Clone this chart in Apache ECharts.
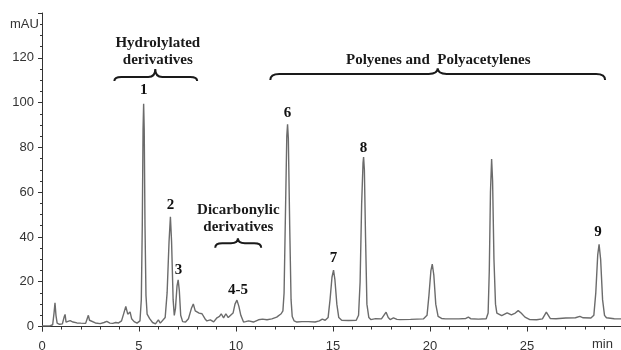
<!DOCTYPE html>
<html><head><meta charset="utf-8">
<script src="https://cdn.jsdelivr.net/npm/echarts@6/dist/echarts.min.js"></script>
<style>html,body{margin:0;padding:0;background:#fff}#c{width:621px;height:350px}</style>
</head><body><div id="c"></div>
<script>
// chromatogram trace [time (min), absorbance (mAU)]
const trace = [
[0.0,0.3],[0.4,0.3],[0.55,0.8],[0.62,6],[0.67,10.6],[0.72,5],[0.78,1.5],[0.9,1.0],[1.05,1.2],
[1.15,4.5],[1.19,5.4],[1.24,2],[1.32,1.5],[1.45,2.6],[1.6,2.0],[1.8,1.6],[2.0,1.5],[2.25,1.4],
[2.35,4],[2.39,5.0],[2.45,2.8],[2.55,2.2],[2.75,1.6],[3.0,1.3],[3.2,1.8],[3.34,2.3],[3.5,1.5],
[3.65,1.4],[3.8,1.8],[3.95,1.6],[4.1,2.5],[4.22,6],[4.32,9],[4.42,5.5],[4.54,6.5],[4.62,3.5],
[4.75,2.2],[4.9,1.5],[5.05,2.5],[5.12,12],[5.17,45],[5.21,88],[5.24,99.5],[5.27,88],[5.31,45],
[5.36,14],[5.42,5.5],[5.47,5.3],[5.55,3.5],[5.7,1.8],[5.85,1.2],[6.0,3.0],[6.1,1.5],[6.2,1.0],
[6.35,4],[6.45,15],[6.55,38],[6.62,49],[6.68,38],[6.76,12],[6.82,5],[6.88,8],[6.96,18],[7.02,20.8],
[7.08,16],[7.15,5],[7.25,2.2],[7.4,2.0],[7.55,3.5],[7.7,8],[7.8,10.1],[7.9,7],[8.0,6.4],[8.1,6.0],
[8.25,5.7],[8.4,3.5],[8.5,2.5],[8.68,3.0],[8.85,2.1],[9.02,3.9],[9.15,4.5],[9.24,5.7],[9.36,3.9],
[9.48,5.7],[9.6,4.0],[9.7,3.9],[9.85,6],[9.95,10],[10.05,11.8],[10.15,9],[10.25,5],[10.39,2.0],
[10.5,2.2],[10.65,2.5],[10.9,2.0],[11.16,3.0],[11.37,3.3],[11.6,3.0],[11.85,3.4],[12.1,4.2],
[12.33,5.7],[12.42,7],[12.48,15],[12.55,50],[12.62,85],[12.66,90.3],[12.7,84],[12.77,45],[12.84,12],
[12.9,4.5],[13.0,2.5],[13.14,2.0],[13.4,2.2],[13.74,2.2],[14.08,2.0],[14.3,2.5],[14.45,3.3],
[14.6,2.8],[14.75,4],[14.85,12],[14.95,22],[15.03,25.2],[15.1,21],[15.2,10],[15.3,4],[15.45,2.8],
[15.8,2.7],[16.2,2.8],[16.32,5],[16.4,20],[16.48,55],[16.55,73],[16.58,75.7],[16.62,70],[16.68,40],
[16.75,10],[16.85,4],[16.95,3.1],[17.2,3.5],[17.5,3.4],[17.6,2.8],[17.74,6.4],[17.85,4],[17.95,3.1],
[18.12,3.9],[18.3,3.2],[18.46,3.1],[19.0,3.2],[19.66,3.4],[19.85,5],[19.95,14],[20.05,25],
[20.12,27.9],[20.2,23],[20.3,10],[20.42,4.5],[20.6,3.6],[20.8,3.4],[21.5,3.4],[21.85,3.6],
[21.98,4.2],[22.1,3.5],[22.5,3.3],[22.9,3.5],[23.0,6],[23.06,25],[23.12,60],[23.18,74.8],
[23.23,65],[23.3,30],[23.38,10],[23.45,6],[23.52,5.7],[23.7,4.9],[23.98,6.1],[24.2,5.2],[24.4,6],
[24.55,7.1],[24.7,6],[24.9,4.2],[25.15,3.1],[25.5,3.0],[25.8,3.4],[26.0,6.4],[26.2,3.6],[26.5,3.5],
[27.0,3.8],[27.5,3.9],[27.73,4.5],[27.9,3.9],[28.3,3.8],[28.45,5],[28.55,15],[28.65,32],
[28.72,36.7],[28.8,30],[28.9,12],[29.0,5],[29.1,3.9],[29.5,3.5],[29.85,3.4]
];
const xTickLabels = [0,5,10,15,20,25];
const xMinorTicks = [1,2,3,4,6,7,8,9,11,12,13,14,16,17,18,19,21,22,23,24,26,27,28,29];
const yTickLabels = [0,20,40,60,80,100,120];
const yMinorTicks = [5,10,15,25,30,35,45,50,55,65,70,75,85,90,95,105,110,115,125,130,135];
const peakNames = ['1','2','3','4-5','6','7','8','9'];
const peakLabelX = [5.25,6.62,7.04,10.11,12.66,15.03,16.58,28.66];
const peakLabelY = [105.6,54,25.2,16.3,95.4,30.5,79.7,42.3];
const groupNames = ['Hydrolylated\nderivatives','Dicarbonylic\nderivatives','Polyenes and  Polyacetylenes'];
const braceLeft = [3.73,8.93,11.77];
const braceRight = [8.0,11.3,29.03];
const braceTip = [5.84,10.1,20.4];
const braceMainY = [111.4,37.2,112.8];
const braceEndY = [109.6,35.2,110.1];
const braceTipY = [115,39.4,115.3];
const groupTextX = [5.97,10.12,20.43];
const groupTextY = [122.6,48.1,119];

const AX = '#333';
const serif = 'bold 15px "Liberation Serif", "Times New Roman", serif';
const chart = echarts.init(document.getElementById('c'), null, {renderer:'canvas'});

function renderBrace(params, api){
  const i = params.dataIndex;
  const pl = api.coord([braceLeft[i], braceEndY[i]]);
  const pm = api.coord([braceLeft[i], braceMainY[i]]);
  const pr = api.coord([braceRight[i], braceEndY[i]]);
  const pt = api.coord([braceTip[i], braceTipY[i]]);
  const xl=pl[0], xr=pr[0], ye=pl[1], ym=pm[1], xm=pt[0], yt=pt[1];
  const d = (xr-xl) > 100 ? 9 : 7;
  const path = 'M'+xl+','+ye+' Q'+xl+','+ym+' '+(xl+d)+','+ym+' L'+(xm-d)+','+ym+
    ' Q'+xm+','+ym+' '+xm+','+yt+' Q'+xm+','+ym+' '+(xm+d)+','+ym+' L'+(xr-d)+','+ym+
    ' Q'+xr+','+ym+' '+xr+','+ye;
  const tp = api.coord([groupTextX[i], groupTextY[i]]);
  return {type:'group', children:[
    {type:'path', shape:{pathData:path}, style:{fill:'none', stroke:'#1a1a1a', lineWidth:2}},
    {type:'text', x:tp[0], y:tp[1], style:{text:groupNames[i], font:serif, fill:'#1a1a1a',
      align:'center', verticalAlign:'middle', lineHeight:17}}
  ]};
}
function renderPeakLabel(params, api){
  const i = params.dataIndex;
  const p = api.coord([peakLabelX[i], peakLabelY[i]]);
  return {type:'text', x:p[0], y:p[1], style:{text:peakNames[i], font:serif, fill:'#111',
    align:'center', verticalAlign:'middle'}};
}

const baseX = {type:'value', min:0, max:29.85, position:'bottom'};
const baseY = {type:'value', min:-2, max:140, position:'left'};
chart.setOption({
  animation:false,
  backgroundColor:'#fff',
  grid:{left:42, right:0, top:13, bottom:19, containLabel:false, outerBoundsMode:'none'},
  xAxis:[
    Object.assign({}, baseX, {
      axisLine:{show:true, lineStyle:{color:AX, width:1}},
      axisTick:{show:true, length:5, inside:false, customValues:xTickLabels, lineStyle:{color:AX}},
      axisLabel:{show:true, customValues:xTickLabels, color:AX, fontSize:13, margin:9,
        fontFamily:'"Liberation Sans", Arial, sans-serif'},
      splitLine:{show:false}
    }),
    Object.assign({}, baseX, {
      axisLine:{show:false},
      axisTick:{show:true, length:3, customValues:xMinorTicks, lineStyle:{color:AX}},
      axisLabel:{show:false}, splitLine:{show:false}
    })
  ],
  yAxis:[
    Object.assign({}, baseY, {
      axisLine:{show:true, lineStyle:{color:AX, width:1}},
      axisTick:{show:true, length:4, customValues:yTickLabels.concat([140]), lineStyle:{color:AX}},
      axisLabel:{show:true, customValues:yTickLabels, color:AX, fontSize:13, margin:8,
        fontFamily:'"Liberation Sans", Arial, sans-serif'},
      splitLine:{show:false}
    }),
    Object.assign({}, baseY, {
      axisLine:{show:false},
      axisTick:{show:true, length:2, customValues:yMinorTicks, lineStyle:{color:AX}},
      axisLabel:{show:false}, splitLine:{show:false}
    })
  ],
  graphic:[
    {type:'text', left:10, top:18, style:{text:'mAU', font:'13px "Liberation Sans", Arial, sans-serif', fill:AX}},
    {type:'text', left:592, top:338, style:{text:'min', font:'13px "Liberation Sans", Arial, sans-serif', fill:AX}}
  ],
  series:[
    {type:'line', data:trace, showSymbol:false, symbol:'none', smooth:false,
      lineStyle:{color:'#6b6b6b', width:1.4}, silent:true, z:2},
    {type:'custom', renderItem:renderBrace, data:braceLeft.map((v,i)=>[v, braceMainY[i]]),
      encode:{x:0, y:1}, z:5, silent:true},
    {type:'custom', renderItem:renderPeakLabel, data:peakLabelX.map((v,i)=>[v, peakLabelY[i]]),
      encode:{x:0, y:1}, z:5, silent:true}
  ]
});
</script></body></html>
